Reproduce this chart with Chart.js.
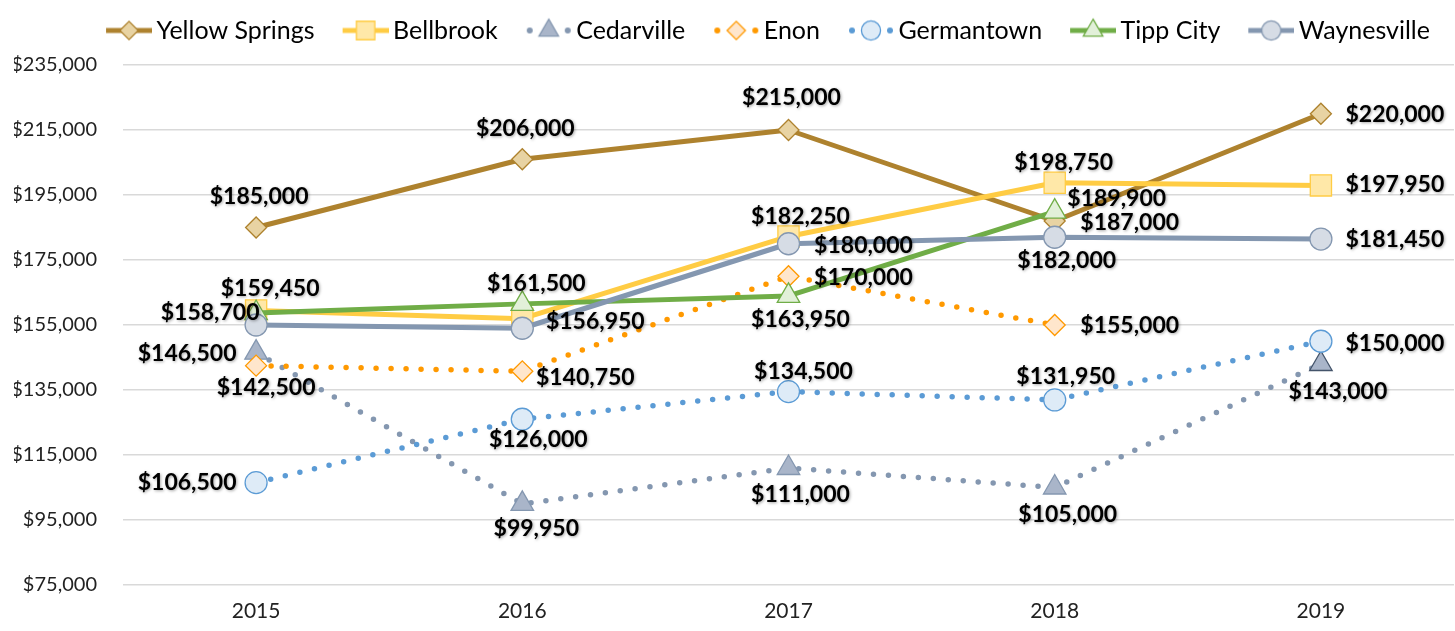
<!DOCTYPE html>
<html>
<head>
<meta charset="utf-8">
<script src="https://cdn.jsdelivr.net/npm/chart.js@4.4.1/dist/chart.umd.min.js"></script>
<style>
  html, body { margin: 0; padding: 0; background: #fff; }
  #wrap { width: 1455px; height: 631px; }
</style>
</head>
<body>
<div id="wrap"><canvas id="chart"></canvas></div>
<script>
const YEARS = ["2015", "2016", "2017", "2018", "2019"];
const YELLOW_SPRINGS = [185000, 206000, 215000, 187000, 220000];
const BELLBROOK = [159450, 156950, 182250, 198750, 197950];
const CEDARVILLE = [146500, 99950, 111000, 105000, 143000];
const ENON = [142500, 140750, 170000, 155000, null];
const GERMANTOWN = [106500, 126000, 134500, 131950, 150000];
const TIPP_CITY = [158700, 161500, 163950, 189900, null];
const WAYNESVILLE = [155000, 154000, 180000, 182000, 181450];
const Y_MIN = 75000, Y_MAX = 235000, Y_STEP = 20000;

// value label centre relative to its marker, in px (null = no label shown)
const LABEL_NUDGE = {
  "Yellow Springs": [[3, -31], [3, -31], [3, -32], [75, 2], [74, 1]],
  "Bellbrook":      [[14, -22], [73, 3], [12, -20], [9, -20], [74, -1]],
  "Cedarville":     [[-69, 1], [14, 25], [12, 27], [13, 27], [17, 28]],
  "Enon":           [[10, 22], [63, 6], [75, 1], [75, 1], null],
  "Germantown":     [[-69, 0], [16, 20], [15, -20], [11, -23], [74, 2]],
  "Tipp City":      [[-46, 0], [14, -20], [12, 24], [62, -13], null],
  "Waynesville":    [null, null, [75, 2], [12, 23], [74, 1]],
};

const FONT = 'Lato, "Liberation Sans", sans-serif';

const SERIES = [
  { label: "Yellow Springs", data: YELLOW_SPRINGS, color: "#AE822E", fill: "#E8D3A3", marker: "rectRot", radius: 10.5, dotted: false },
  { label: "Bellbrook", data: BELLBROOK, color: "#FFCC44", fill: "#FFE8A8", marker: "rect", radius: 15, dotted: false },
  { label: "Cedarville", data: CEDARVILLE, color: "#8497B0", fill: "#A9B5C9", marker: "triangle", radius: 13, dotted: true },
  { label: "Enon", data: ENON, color: "#FF9900", fill: "#FFE6CC", marker: "rectRot", radius: 10.5, dotted: true },
  { label: "Germantown", data: GERMANTOWN, color: "#5B9BD5", fill: "#DEEBF7", marker: "circle", radius: 11, dotted: true },
  { label: "Tipp City", data: TIPP_CITY, color: "#70AD47", fill: "#E2F0D9", marker: "triangle", radius: 13, dotted: false },
  { label: "Waynesville", data: WAYNESVILLE, color: "#8497B0", fill: "#D6DCE5", marker: "circle", radius: 11, dotted: false },
];

const money = (v) => "$" + Number(v).toLocaleString("en-US");

function markerPath(g, style, r, x, y) {
  g.beginPath();
  if (style === "circle") {
    g.arc(x, y, r, 0, Math.PI * 2);
  } else if (style === "rect") {
    const h = r * Math.SQRT1_2;
    g.rect(x - h, y - h, 2 * h, 2 * h);
  } else if (style === "rectRot") {
    g.moveTo(x - r, y); g.lineTo(x, y - r); g.lineTo(x + r, y); g.lineTo(x, y + r);
    g.closePath();
  } else if (style === "triangle") {
    for (let k = 0; k < 3; k++) {
      const a = k * 2 * Math.PI / 3;
      const px = x + Math.sin(a) * r, py = y - Math.cos(a) * r;
      k ? g.lineTo(px, py) : g.moveTo(px, py);
    }
    g.closePath();
  }
}

// legend sample: short line (or two dots) with the marker in the middle,
// sitting in the right part of a wider transparent image
function legendIcon(s) {
  const W = 70, H = 30, sw = 46, sx = W - sw, cy = 15;
  const c = document.createElement("canvas");
  c.width = W; c.height = H;
  const g = c.getContext("2d");
  if (s.dotted) {
    g.fillStyle = s.color;
    [sx + 4, sx + sw - 4].forEach(x => { g.beginPath(); g.arc(x, cy, 3, 0, Math.PI * 2); g.fill(); });
  } else {
    g.strokeStyle = s.color; g.lineWidth = 5;
    g.beginPath(); g.moveTo(sx, cy); g.lineTo(sx + sw, cy); g.stroke();
  }
  g.fillStyle = s.fill; g.strokeStyle = s.color; g.lineWidth = 1.3;
  markerPath(g, s.marker, s.radius * 0.87, sx + sw / 2, cy);
  g.fill(); g.stroke();
  return c;
}

const datasets = SERIES.map((s, i) => ({
  label: s.label,
  data: s.data,
  borderColor: s.color,
  backgroundColor: s.fill,
  borderWidth: s.dotted ? 5.5 : 5,
  borderDash: s.dotted ? [0, 15] : [],
  borderCapStyle: s.dotted ? "round" : "butt",
  borderJoinStyle: "round",
  tension: 0,
  clip: false,
  pointStyle: s.marker,
  pointRadius: s.radius,
  pointBackgroundColor: s.fill,
  pointBorderColor: s.label === "Cedarville" ? s.data.map((_, j) => j === 4 ? "#44546A" : s.color) : s.color,
  pointBorderWidth: 1.3,
  order: SERIES.length - i,
  labelNudge: LABEL_NUDGE[s.label],
  legendIcon: legendIcon(s),
}));

const valueLabels = {
  id: "valueLabels",
  afterDatasetsDraw(chart) {
    const ctx = chart.ctx;
    ctx.save();
    ctx.font = `bold 23px ${FONT}`;
    ctx.fillStyle = "#000";
    ctx.textAlign = "center";
    ctx.textBaseline = "middle";
    ctx.shadowColor = "rgba(0,0,0,0.35)";
    ctx.shadowBlur = 3;
    ctx.shadowOffsetX = 1;
    ctx.shadowOffsetY = 1;
    chart.data.datasets.forEach((ds, i) => {
      chart.getDatasetMeta(i).data.forEach((pt, j) => {
        const nudge = ds.labelNudge[j];
        if (ds.data[j] == null || !nudge) return;
        ctx.fillText(money(ds.data[j]), pt.x + nudge[0], pt.y + nudge[1]);
      });
    });
    ctx.restore();
  }
};

// extra room under the legend row, and nudge the row a bit to the right
const legendTweak = {
  id: "legendTweak",
  beforeInit(chart) {
    const lg = chart.legend;
    const fit = lg.fit;
    lg.fit = function () { fit.call(this); this.height += 12; };
    const draw = lg.draw;
    lg.draw = function () {
      this.ctx.save();
      this.ctx.translate(26, 0);
      draw.call(this);
      this.ctx.restore();
    };
  }
};

new Chart(document.getElementById("chart"), {
  type: "line",
  data: { labels: YEARS, datasets },
  options: {
    responsive: true,
    maintainAspectRatio: false,
    devicePixelRatio: 1,
    animation: false,
    layout: { autoPadding: false, padding: { top: 6, right: 1, bottom: 7, left: 14 } },
    plugins: {
      tooltip: { enabled: false },
      legend: {
        position: "top",
        align: "center",
        labels: {
          usePointStyle: true,
          pointStyleWidth: 54,
          padding: 12,
          color: "#000",
          font: { family: FONT, size: 25 },
          generateLabels: (chart) => chart.data.datasets.map((ds, i) => ({
            text: ds.label,
            pointStyle: ds.legendIcon,
            datasetIndex: i,
            fillStyle: ds.borderColor,
            strokeStyle: ds.borderColor,
            lineWidth: 0,
            hidden: false,
            fontColor: "#000",
          })),
        },
      },
    },
    scales: {
      x: {
        offset: true,
        afterFit: (scale) => { scale.height = 39; },
        grid: { display: false, drawTicks: false },
        border: { display: false },
        ticks: { color: "#222", padding: 14, font: { family: FONT, size: 21 } },
      },
      y: {
        min: Y_MIN,
        max: Y_MAX,
        afterFit: (scale) => { scale.width = 109; },
        grid: { color: "#d9d9d9", lineWidth: 1.5, drawTicks: false },
        border: { display: false },
        ticks: {
          stepSize: Y_STEP,
          padding: 26,
          color: "#222",
          font: { family: FONT, size: 20 },
          callback: (v) => money(v),
        },
      },
    },
  },
  plugins: [valueLabels, legendTweak],
});
</script>
</body>
</html>
